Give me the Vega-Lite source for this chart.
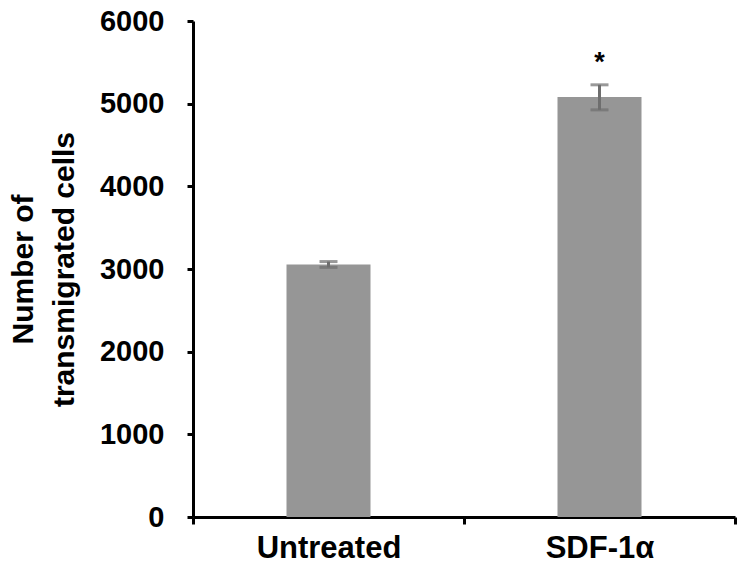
{
  "$schema": "https://vega.github.io/schema/vega-lite/v6.json",
  "width": 542,
  "height": 496,
  "autosize": {"type": "none"},
  "padding": {"left": 193, "top": 21, "right": 10, "bottom": 56},
  "background": "white",
  "config": {
    "view": {"stroke": null},
    "font": "Liberation Sans"
  },
  "data": {
    "values": [
      {"group": "Untreated", "mean": 3055, "lo": 3020, "hi": 3090, "sig": ""},
      {"group": "SDF-1α", "mean": 5080, "lo": 4925, "hi": 5228, "sig": "*"}
    ]
  },
  "encoding": {
    "x": {
      "field": "group",
      "type": "nominal",
      "sort": null,
      "scale": {"type": "band", "paddingInner": 0, "paddingOuter": 0},
      "axis": {
        "title": null,
        "labelAngle": 0,
        "labelFontSize": 31,
        "labelFontWeight": "bold",
        "labelColor": "black",
        "labelPadding": 9,
        "domainColor": "black",
        "domainWidth": 3,
        "tickColor": "black",
        "tickWidth": 3,
        "tickSize": 7,
        "tickBand": "extent"
      }
    }
  },
  "layer": [
    {
      "mark": {"type": "bar", "color": "#969696", "width": {"band": 0.31}},
      "encoding": {
        "y": {
          "field": "mean",
          "type": "quantitative",
          "scale": {"domain": [0, 6000], "nice": false},
          "axis": {
            "values": [0, 1000, 2000, 3000, 4000, 5000, 6000],
            "grid": false,
            "format": "d",
            "title": ["Number of", "transmigrated cells"],
            "titleFontSize": 30,
            "titleFontWeight": "bold",
            "titleColor": "black",
            "titleLineHeight": 41,
            "titlePadding": 20,
            "labelFontSize": 29,
            "labelFontWeight": "bold",
            "labelColor": "black",
            "labelPadding": 23,
            "domainColor": "black",
            "domainWidth": 3,
            "tickColor": "black",
            "tickWidth": 3,
            "tickSize": 6
          }
        }
      }
    },
    {
      "mark": {"type": "rule", "color": "#6e6e6e", "strokeWidth": 3},
      "encoding": {
        "y": {"field": "lo", "type": "quantitative"},
        "y2": {"field": "hi"}
      }
    },
    {
      "mark": {"type": "tick", "color": "#6e6e6e", "thickness": 3, "size": 18, "orient": "horizontal"},
      "encoding": {"y": {"field": "lo", "type": "quantitative"}}
    },
    {
      "mark": {"type": "tick", "color": "#6e6e6e", "thickness": 3, "size": 18, "orient": "horizontal"},
      "encoding": {"y": {"field": "hi", "type": "quantitative"}}
    },
    {
      "mark": {"type": "text", "fontSize": 27, "fontWeight": "bold", "color": "black", "baseline": "alphabetic"},
      "encoding": {
        "y": {"datum": 5390, "type": "quantitative"},
        "text": {"field": "sig"}
      }
    }
  ]
}
